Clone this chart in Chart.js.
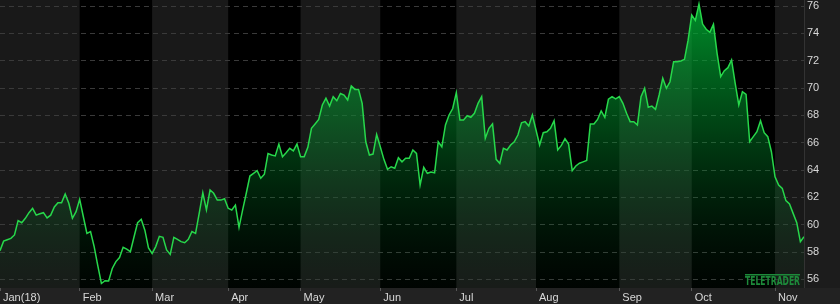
<!DOCTYPE html>
<html>
<head>
<meta charset="utf-8">
<style>
  html, body { margin: 0; padding: 0; background: #000; }
  #wrap { width: 840px; height: 304px; }
</style>
<script src="https://cdn.jsdelivr.net/npm/chart.js@4.4.1/dist/chart.umd.min.js"></script>
</head>
<body>
<div id="wrap"><canvas id="chart" width="840" height="304"></canvas></div>
<script>
// ===== Data =====
const monthLabels = ['Jan(18)', 'Feb', 'Mar', 'Apr', 'May', 'Jun', 'Jul', 'Aug', 'Sep', 'Oct', 'Nov'];
// index of the first trading day of each month
const monthStarts = [0, 22, 42, 63, 83, 105, 126, 148, 171, 191, 214];
const yTicks = [56, 58, 60, 62, 64, 66, 68, 70, 72, 74, 76];

// daily closes, Jan 2018 .. mid Nov 2018
const prices = [
  // Jan
  58.1, 58.8, 58.9, 59.0, 59.25, 60.3, 60.15, 60.47, 60.88, 61.2, 60.7,
  60.8, 60.88, 60.5, 60.7, 61.3, 61.6, 61.6, 62.25, 61.57, 60.47, 60.95,
  // Feb
  61.86, 60.6, 59.37, 59.5, 58.4, 57.0, 55.7, 55.9, 55.88, 56.8,
  57.3, 57.6, 58.35, 58.22, 58.03, 59.1, 60.15, 60.4, 59.6, 58.3,
  // Mar
  57.9, 58.4, 59.15, 59.08, 58.15, 57.83, 59.08, 58.93, 58.76, 58.68, 58.93,
  59.5, 59.37, 60.83, 62.34, 61.08, 62.54, 62.3, 61.8, 61.8, 61.9,
  // Apr
  61.2, 61.08, 61.44, 59.8, 61.08, 62.3, 63.56, 63.76, 63.95, 63.4,
  63.7, 65.2, 65.1, 65.03, 65.9, 64.98, 65.27, 65.59, 65.4, 65.9,
  // May
  64.98, 64.98, 65.66, 67.05, 67.37, 67.7, 68.76, 69.25, 68.68, 69.37, 69.07,
  69.6, 69.49, 69.12, 70.15, 69.9, 69.9, 68.88, 66.07, 65.1, 65.17, 66.6,
  // Jun
  65.7, 64.78, 64.05, 64.24, 64.13, 64.9, 64.6, 64.86, 64.86, 65.47, 65.22,
  62.9, 64.2, 63.76, 63.85, 63.8, 66.07, 65.7, 67.3, 68.03, 68.5,
  // Jul
  69.66, 67.66, 67.66, 67.97, 67.86, 68.15, 68.88, 69.37, 66.32, 67.05, 67.37,
  64.78, 64.49, 65.59, 65.47, 65.83, 66.07, 66.56, 67.46, 67.54, 67.22, 68.03,
  // Aug
  66.93, 65.83, 66.73, 66.8, 67.05, 67.61, 65.47, 65.8, 66.3, 65.9, 63.95, 64.3,
  64.5, 64.6, 64.7, 67.37, 67.37, 67.7, 68.32, 67.86, 69.18, 69.37, 69.2,
  // Sep
  69.37, 68.88, 68.15, 67.54, 67.54, 67.3, 69.37, 69.98, 68.59, 68.68,
  68.44, 69.49, 70.71, 69.98, 70.46, 71.93, 71.93, 71.98, 72.1, 73.5,
  // Oct
  75.34, 74.95, 76.15, 74.68, 74.3, 74.08, 74.66, 72.54, 70.83, 71.27, 71.49, 72.05,
  70.34, 68.76, 69.73, 69.54, 66.07, 66.44, 66.8, 67.61, 66.73, 66.44, 65.34,
  // Nov
  63.51, 62.9, 62.66, 61.76, 61.52, 60.83, 60.15, 58.76, 59.12
];

// ===== Month bands, axis panels, logo =====
const backdropPlugin = {
  id: 'backdrop',
  beforeDraw(chart) {
    const { ctx, chartArea: a, scales: { x } } = chart;
    ctx.save();
    ctx.fillStyle = '#000';
    ctx.fillRect(0, 0, chart.width, chart.height);

    monthStarts.forEach((start, i) => {
      if (i % 2) return;
      const x0 = x.getPixelForValue(start);
      const next = monthStarts[i + 1];
      const x1 = next === undefined ? a.right : x.getPixelForValue(next);
      ctx.fillStyle = '#191919';
      ctx.fillRect(x0, a.top, x1 - x0, a.bottom - a.top);
    });

    ctx.fillStyle = '#1c1c1c';
    ctx.fillRect(a.right, 0, chart.width - a.right, chart.height);
    ctx.fillStyle = '#222';
    ctx.fillRect(0, a.bottom, chart.width, chart.height - a.bottom);
    ctx.fillStyle = '#333';
    ctx.fillRect(a.right, 0, 1, a.bottom);
    ctx.restore();
  },
  afterDatasetsDraw(chart) {
    const { ctx, chartArea: a } = chart;
    ctx.save();
    ctx.font = 'bold 13px "DejaVu Sans"';
    const w = ctx.measureText('TELETRADER').width;
    ctx.fillStyle = '#1d8a3a';
    ctx.fillRect(a.right - 59, a.bottom - 14, 55, 1.5);
    ctx.translate(a.right - 59, a.bottom - 3);
    ctx.scale(55 / w, 1);
    ctx.fillText('TELETRADER', 0, 0);
    ctx.restore();
  }
};

const tickFont = { family: 'Liberation Sans', size: 11 };

new Chart(document.getElementById('chart'), {
  type: 'line',
  data: {
    datasets: [{
      data: prices.map((v, i) => ({ x: i, y: v })),
      borderColor: '#27d84b',
      borderWidth: 1.5,
      pointRadius: 0,
      tension: 0,
      fill: 'start',
      backgroundColor: (c) => {
        const a = c.chart.chartArea;
        if (!a) return 'rgba(0,150,45,0.4)';
        const g = c.chart.ctx.createLinearGradient(0, a.top, 0, a.bottom);
        g.addColorStop(0, 'rgba(0,175,52,0.82)');
        g.addColorStop(0.5, 'rgba(0,150,45,0.38)');
        g.addColorStop(1, 'rgba(0,80,25,0.05)');
        return g;
      }
    }]
  },
  options: {
    responsive: false,
    animation: false,
    events: [],
    layout: { padding: 0 },
    plugins: { legend: { display: false }, tooltip: { enabled: false } },
    scales: {
      x: {
        type: 'linear',
        min: 0,
        max: prices.length - 1,
        afterBuildTicks: (s) => { s.ticks = monthStarts.map(v => ({ value: v })); },
        afterFit: (s) => {
          s.height = 16;
          s.paddingLeft = 0;
          s.paddingRight = 0;
        },
        ticks: {
          autoSkip: false,
          maxRotation: 0,
          align: 'start',
          labelOffset: 3,
          padding: 0,
          color: '#d8d8d8',
          font: tickFont,
          callback: (v) => monthLabels[monthStarts.indexOf(v)] ?? ''
        },
        grid: { drawOnChartArea: false, drawTicks: true, tickLength: 3, tickColor: '#555' },
        border: { display: false }
      },
      y: {
        position: 'right',
        min: 55.37,
        max: 76.44,
        afterBuildTicks: (s) => { s.ticks = yTicks.map(v => ({ value: v })); },
        afterFit: (s) => {
          s.width = 36;
          s.paddingTop = 0;
          s.paddingBottom = 0;
        },
        ticks: { color: '#d8d8d8', font: tickFont, padding: 3, callback: (v) => v },
        grid: { color: '#3a3a3a', lineWidth: 1, drawTicks: false },
        border: { display: false, dash: [5, 4] }
      }
    }
  },
  plugins: [backdropPlugin]
});
</script>
</body>
</html>
